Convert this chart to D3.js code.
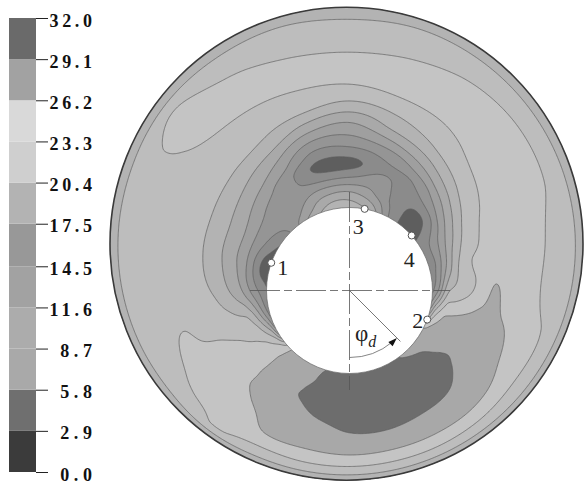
<!DOCTYPE html>
<html>
<head>
<meta charset="utf-8">
<script src="https://cdn.jsdelivr.net/npm/d3@7"></script>
<style>
body { margin: 0; background: #fff; }
svg text { font-family: "Liberation Serif", "Times New Roman", "DejaVu Serif", serif; }
</style>
</head>
<body>
<svg id="chart" width="585" height="488"></svg>
<script>
// contour levels of the legend
var levels = [0, 2.9, 5.8, 8.7, 11.6, 14.5, 17.5, 20.4, 23.3, 26.2, 29.1, 32.0];
var legendFill = ["#3b3b3b", "#6f6f6f", "#a9a9a9", "#acacac", "#a2a2a2", "#989898",
                  "#b3b3b3", "#cfcfcf", "#d9d9d9", "#a2a2a2", "#6a6a6a"];
// grey of each band as it appears in the gap
var bandFill = ["#4a4a4a", "#5e5e5e", "#8b8b8b", "#959595", "#9f9f9f", "#a9a9a9",
                "#b3b3b3", "#bdbdbd", "#c4c4c4", "#a8a8a8", "#6d6d6d"];

// angle round the shaft (deg, 0 = right, 90 = down) and relative position across the gap
var angles = [0, 15, 30, 45, 60, 75, 90, 105, 120, 135, 150, 165,
              180, 195, 210, 225, 240, 255, 270, 285, 300, 315, 330, 345];
var gapPos = [0, 0.04, 0.08, 0.12, 0.17, 0.22, 0.28, 0.35, 0.43, 0.52, 0.62, 0.72, 0.82, 0.90, 0.95, 1.0];

// values, one row per angle, shaft wall -> housing
var field = [
  [8.1, 11.6, 16.9, 20.4, 21.3, 22.2, 23.3, 24.7, 26.5, 25.2, 24.2, 23.5, 22.3, 21.1, 20.4, 19.2],
  [16.0, 22.1, 24.7, 26.2, 26.5, 26.8, 27.2, 27.6, 27.1, 26.6, 25.8, 24.5, 23.6, 21.8, 20.4, 19.2],
  [27.9, 28.0, 28.2, 28.3, 28.4, 28.6, 28.7, 28.5, 28.0, 27.4, 26.7, 25.8, 23.9, 21.8, 20.4, 19.2],
  [28.2, 28.8, 29.2, 29.5, 29.8, 30.1, 30.5, 30.1, 29.6, 28.9, 27.8, 26.7, 24.7, 22.2, 20.4, 19.2],
  [29.7, 29.8, 30.0, 30.1, 30.3, 30.5, 30.7, 30.5, 29.9, 29.3, 28.2, 26.9, 24.9, 22.4, 20.4, 19.2],
  [30.0, 30.1, 30.2, 30.3, 30.5, 30.6, 30.8, 30.5, 30.0, 29.5, 28.6, 27.0, 24.9, 22.4, 20.4, 19.2],
  [29.7, 29.8, 29.9, 30.1, 30.3, 30.4, 30.6, 30.4, 29.9, 29.4, 28.4, 27.0, 25.0, 22.4, 20.4, 19.2],
  [29.2, 29.4, 29.5, 29.6, 29.8, 30.0, 30.0, 29.6, 29.2, 28.4, 27.5, 26.6, 24.7, 22.4, 20.4, 19.2],
  [27.6, 27.8, 28.0, 28.1, 28.3, 28.5, 28.7, 28.5, 28.1, 27.6, 27.0, 26.4, 24.3, 22.2, 20.4, 19.2],
  [25.9, 26.3, 26.5, 26.6, 26.6, 26.6, 26.6, 26.5, 26.4, 26.0, 25.2, 24.5, 23.8, 23.4, 20.8, 19.2],
  [13.1, 19.2, 21.5, 22.9, 23.5, 23.8, 24.2, 24.5, 24.9, 24.7, 24.2, 23.7, 23.1, 21.4, 20.4, 19.2],
  [7.6, 11.6, 15.5, 18.6, 20.6, 21.0, 21.6, 22.1, 22.4, 22.8, 23.4, 23.0, 22.1, 21.1, 20.4, 19.2],
  [6.1, 7.9, 9.9, 12.2, 14.9, 16.7, 18.4, 20.1, 21.1, 21.8, 21.8, 21.8, 21.8, 21.1, 20.4, 19.2],
  [4.1, 4.9, 7.4, 10.1, 13.3, 15.0, 17.0, 18.9, 20.6, 21.5, 21.8, 21.8, 21.8, 21.1, 20.4, 19.2],
  [5.5, 7.2, 9.0, 10.7, 12.9, 14.9, 16.8, 18.7, 20.5, 21.3, 22.2, 22.5, 22.4, 21.5, 20.4, 19.2],
  [8.8, 9.3, 10.0, 10.6, 11.3, 12.9, 15.3, 17.7, 20.2, 21.7, 22.8, 23.7, 24.2, 23.3, 20.6, 19.2],
  [14.5, 12.2, 11.1, 10.4, 9.5, 9.9, 12.5, 15.5, 19.4, 21.5, 23.0, 25.0, 23.6, 21.7, 20.4, 19.2],
  [18.6, 16.7, 13.8, 10.9, 7.1, 5.1, 7.6, 11.4, 16.4, 21.1, 23.3, 24.6, 22.6, 21.2, 20.4, 19.2],
  [19.2, 17.3, 14.4, 11.1, 7.3, 4.7, 7.6, 11.1, 14.8, 19.9, 23.4, 25.0, 21.8, 21.1, 20.2, 19.2],
  [16.3, 14.0, 11.6, 10.6, 9.3, 7.9, 9.3, 13.4, 18.0, 21.1, 23.9, 24.6, 22.7, 21.3, 20.4, 19.2],
  [7.6, 7.2, 6.9, 7.0, 7.7, 8.7, 12.2, 16.3, 20.1, 22.3, 24.1, 24.6, 23.4, 21.6, 20.4, 19.2],
  [4.4, 4.6, 5.1, 6.5, 9.9, 12.8, 16.3, 19.7, 22.2, 23.8, 24.7, 24.4, 23.6, 22.0, 20.4, 19.2],
  [7.3, 8.2, 9.9, 12.2, 15.1, 17.9, 20.7, 22.7, 23.7, 24.4, 24.9, 24.1, 23.4, 21.6, 20.4, 19.2],
  [7.6, 8.7, 12.0, 15.4, 19.3, 21.6, 23.3, 23.7, 24.3, 24.8, 24.5, 23.7, 22.5, 21.2, 20.4, 19.2]
];

// probe points on the shaft wall (deg)
var probeNames = ["1", "2", "3", "4"];
var probeAngles = [199.5, 20.5, 280.5, 318.5];

var svg = d3.select("#chart");
var housing = {x: 346.5, y: 243.7, r: 236.5},
    shaft = {x: 349.5, y: 290.5, r: 83};

var angleIndex = d3.scaleLinear().domain([0, 360]).range([0, angles.length]);
var gapIndex = d3.scaleLinear().domain(gapPos).range(d3.range(gapPos.length)).clamp(true);

// distance from shaft centre to the housing along a direction
function reach(ux, uy) {
    var wx = shaft.x - housing.x, wy = shaft.y - housing.y;
    var b = wx * ux + wy * uy;
    return -b + Math.sqrt(b * b - (wx * wx + wy * wy) + housing.r * housing.r);
}

// cubic hermite pieces: monotone across the gap, catmull-rom round the shaft
function slope(d0, d1) {
    return d0 * d1 <= 0 ? 0 : 2 * d0 * d1 / (d0 + d1);
}
function hermite(y0, y1, m0, m1, t) {
    var t2 = t * t, t3 = t2 * t;
    return (2 * t3 - 3 * t2 + 1) * y0 + (t3 - 2 * t2 + t) * m0 + (-2 * t3 + 3 * t2) * y1 + (t3 - t2) * m1;
}
var last = gapPos.length - 1;
var tangents = field.map(function(col) {
    return col.map(function(v, k) {
        if (k === 0) return col[1] - col[0];
        if (k === last) return col[last] - col[last - 1];
        return slope(v - col[k - 1], col[k + 1] - v);
    });
});
function alongGap(i, j0, fs) {
    return hermite(field[i][j0], field[i][j0 + 1], tangents[i][j0], tangents[i][j0 + 1], fs);
}

function valueAt(px, py) {
    var dx = px - shaft.x, dy = py - shaft.y;
    var rho = Math.sqrt(dx * dx + dy * dy);
    var a = Math.atan2(dy, dx);
    var t = reach(Math.cos(a), Math.sin(a));
    var s = (rho - shaft.r) / (t - shaft.r);
    var deg = (a * 180 / Math.PI + 360) % 360;
    var n = angles.length;
    var fi = angleIndex(deg), i0 = Math.floor(fi) % n, ft = fi - Math.floor(fi);
    var fj = gapIndex(s), j0 = Math.min(Math.floor(fj), last - 1), fs = fj - j0;
    var c = [-1, 0, 1, 2].map(function(k) { return alongGap((i0 + k + n) % n, j0, fs); });
    return hermite(c[1], c[2], (c[2] - c[0]) / 2, (c[3] - c[1]) / 2, ft);
}

// sample the gap on a fine grid and contour it
var cell = 1.25;
var x0 = housing.x - housing.r - 3, y0 = housing.y - housing.r - 3;
var nx = Math.ceil((2 * housing.r + 6) / cell), ny = nx;
var values = new Array(nx * ny);
for (var j = 0; j < ny; j++) {
    for (var i = 0; i < nx; i++) {
        values[j * nx + i] = valueAt(x0 + (i + 0.5) * cell, y0 + (j + 0.5) * cell);
    }
}
var contours = d3.contours().size([nx, ny]).thresholds(levels.slice(0, -1))(values);
var path = d3.geoPath(d3.geoTransform({
    point: function(x, y) { this.stream.point(x0 + x * cell, y0 + y * cell); }
}));

svg.append("clipPath").attr("id", "gap")
    .append("circle").attr("cx", housing.x).attr("cy", housing.y).attr("r", housing.r);

var map = svg.append("g").attr("clip-path", "url(#gap)");
map.selectAll(".band")
    .data(contours)
    .enter()
    .append("path")
    .attr("class", "band")
    .attr("d", path)
    .attr("fill", function(d, i) { return bandFill[i]; });
map.selectAll(".iso")
    .data(contours.slice(1))
    .enter()
    .append("path")
    .attr("class", "iso")
    .attr("d", path)
    .attr("fill", "none")
    .attr("stroke", "#606060")
    .attr("stroke-width", 0.7);

svg.append("circle")
    .attr("cx", housing.x).attr("cy", housing.y).attr("r", housing.r)
    .attr("fill", "none").attr("stroke", "#3a3a3a").attr("stroke-width", 1.6);

svg.append("circle")
    .attr("cx", shaft.x).attr("cy", shaft.y).attr("r", shaft.r)
    .attr("fill", "#fff").attr("stroke", "#666").attr("stroke-width", 0.7);

// centre lines
svg.append("line")
    .attr("x1", shaft.x).attr("x2", shaft.x).attr("y1", 192).attr("y2", 390)
    .attr("stroke", "#555").attr("stroke-width", 0.8).attr("stroke-dasharray", "30,4,8,4");
svg.append("line")
    .attr("x1", 250).attr("x2", 450).attr("y1", shaft.y).attr("y2", shaft.y)
    .attr("stroke", "#555").attr("stroke-width", 0.8).attr("stroke-dasharray", "30,4,8,4");

// angle phi_d
var rad = Math.PI / 180;
svg.append("line")
    .attr("x1", shaft.x).attr("y1", shaft.y)
    .attr("x2", shaft.x + 72 * Math.cos(45 * rad)).attr("y2", shaft.y + 72 * Math.sin(45 * rad))
    .attr("stroke", "#555").attr("stroke-width", 0.8);
var arc = d3.path();
arc.arc(shaft.x, shaft.y, 67, 90 * rad, 50 * rad, true);
svg.append("path").attr("d", arc.toString())
    .attr("fill", "none").attr("stroke", "#666").attr("stroke-width", 0.8);
var tip = [shaft.x + 67 * Math.cos(45 * rad), shaft.y + 67 * Math.sin(45 * rad)];
svg.append("path")
    .attr("d", "M0,0L-9,-3L-9,3Z")
    .attr("transform", "translate(" + tip[0] + "," + tip[1] + ") rotate(-45)")
    .attr("fill", "#111");
var phi = svg.append("text").attr("x", 355).attr("y", 341).attr("font-size", 23).attr("fill", "#222");
phi.append("tspan").text("φ");
phi.append("tspan").attr("font-size", 16).attr("font-style", "italic").attr("dy", 6).text("d");

// probe points
var labelShift = {"1": [6, 12, "start"], "2": [-4, 8, "end"], "3": [-12, 25, "start"], "4": [-8, 31, "start"]};
probeNames.forEach(function(name, k) {
    var px = shaft.x + shaft.r * Math.cos(probeAngles[k] * rad),
        py = shaft.y + shaft.r * Math.sin(probeAngles[k] * rad);
    svg.append("circle").attr("cx", px).attr("cy", py).attr("r", 3.5)
        .attr("fill", "#fff").attr("stroke", "#555").attr("stroke-width", 1);
    var sh = labelShift[name];
    svg.append("text").attr("x", px + sh[0]).attr("y", py + sh[1])
        .attr("text-anchor", sh[2]).attr("font-size", 22).attr("fill", "#222").text(name);
});

// legend
var yLegend = d3.scaleLinear().domain([0, 32]).range([472, 18]);
var legend = svg.append("g");
legend.selectAll("rect")
    .data(legendFill)
    .enter()
    .append("rect")
    .attr("x", 9).attr("width", 27)
    .attr("y", function(d, i) { return yLegend(levels[i + 1]); })
    .attr("height", function(d, i) { return yLegend(levels[i]) - yLegend(levels[i + 1]); })
    .attr("fill", function(d) { return d; });

var axis = legend.append("g").attr("transform", "translate(36,0)")
    .call(d3.axisRight(yLegend).tickValues(levels).tickSize(12).tickFormat(d3.format(".1f")));
axis.select(".domain").remove();
axis.selectAll("line").attr("stroke", "#222");
axis.selectAll("text")
    .attr("x", 56).attr("dy", "0.45em")
    .attr("text-anchor", "end")
    .attr("font-weight", "bold")
    .attr("font-size", 18)
    .attr("fill", "#111")
    .attr("lengthAdjust", "spacing")
    .attr("textLength", function(d) { return d3.format(".1f")(d).length * 10.6; });
</script>
</body>
</html>
